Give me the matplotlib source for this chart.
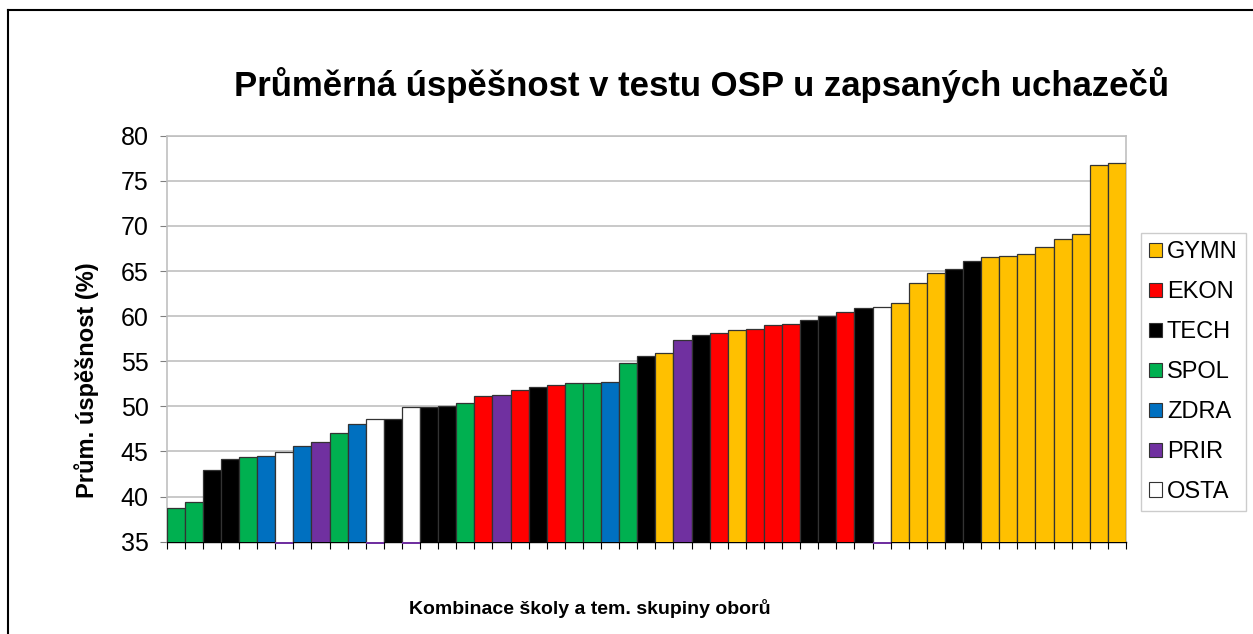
import matplotlib
matplotlib.use("Agg")
import matplotlib.pyplot as plt
import matplotlib.patches as mpatches
from matplotlib.lines import Line2D

plt.rcParams["font.family"] = ["Liberation Sans", "DejaVu Sans"]

# ── Data ──────────────────────────────────────────────────────────────────────
categories = ["GYMN", "EKON", "TECH", "SPOL", "ZDRA", "PRIR", "OSTA"]
cat_colors = ["#FFC000", "#FF0000", "#000000", "#00B050", "#0070C0", "#7030A0", "#FFFFFF"]

values = [38.7, 39.4, 43.0, 44.2, 44.4, 44.5, 44.9, 45.6, 46.1, 47.05,
          48.0, 48.6, 48.6, 49.9, 49.95, 50.05, 50.4, 51.1, 51.3, 51.8,
          52.2, 52.4, 52.55, 52.6, 52.7, 54.8, 55.6, 55.9, 57.4, 57.9,
          58.1, 58.5, 58.55, 59.05, 59.1, 59.6, 60.0, 60.5, 60.9, 61.0,
          61.5, 63.7, 64.8, 65.2, 66.1, 66.55, 66.7, 66.9, 67.7, 68.6,
          69.1, 76.7, 76.95]
groups = ["SPOL", "SPOL", "TECH", "TECH", "SPOL", "ZDRA", "OSTA", "ZDRA", "PRIR", "SPOL",
          "ZDRA", "OSTA", "TECH", "OSTA", "TECH", "TECH", "SPOL", "EKON", "PRIR", "EKON",
          "TECH", "EKON", "SPOL", "SPOL", "ZDRA", "SPOL", "TECH", "GYMN", "PRIR", "TECH",
          "EKON", "GYMN", "EKON", "EKON", "EKON", "TECH", "TECH", "EKON", "TECH", "OSTA",
          "GYMN", "GYMN", "GYMN", "TECH", "TECH", "GYMN", "GYMN", "GYMN", "GYMN", "GYMN",
          "GYMN", "GYMN", "GYMN"]
yticks = [35, 40, 45, 50, 55, 60, 65, 70, 75, 80]

color_map = dict(zip(categories, cat_colors))
GRID = "#C0C0C0"

fig = plt.figure(figsize=(12.53, 6.34), dpi=100, facecolor="white")
ax = fig.add_axes([0.1330, 0.1456, 0.7656, 0.6404])

x = list(range(len(values)))
ax.bar(x, values, width=1.0, color=[color_map[g] for g in groups],
       edgecolor="#333333", linewidth=0.9, zorder=3)

# thin purple strip under the OSTA bars, as in the original export
osta_x = [i for i, g in enumerate(groups) if g == "OSTA"]
ax.bar(osta_x, [-0.25] * len(osta_x), bottom=35, width=1.0, color="#7030A0",
       linewidth=0, clip_on=False, zorder=4)

ax.set_xlim(-0.5, len(values) - 0.5)
ax.set_ylim(35, 80)
ax.set_yticks(yticks)
ax.set_yticklabels([str(t) for t in yticks], fontsize=18)
ax.set_xticks([i - 0.5 for i in range(len(values) + 1)])
ax.set_xticklabels([])
ax.tick_params(axis="x", length=5, color="#000000", direction="out")
ax.tick_params(axis="y", length=5, color="#808080", pad=8)
ax.yaxis.grid(True, color=GRID, linewidth=1.2, zorder=0)
ax.set_axisbelow(True)
for side in ["left", "top", "right"]:
    ax.spines[side].set_color(GRID)
    ax.spines[side].set_linewidth(1.2)
ax.spines["bottom"].set_color("#000000")
ax.spines["bottom"].set_linewidth(1.0)

ax.set_ylabel("Prům. úspěšnost (%)", fontsize=17, fontweight="bold",
              va="center", ha="center")
ax.yaxis.set_label_coords(-0.083, 0.398)

fig.text(0.56, 0.866, "Průměrná úspěšnost v testu OSP u zapsaných uchazečů",
         fontsize=25, fontweight="bold", ha="center", va="center")
fig.text(0.471, 0.041, "Kombinace školy a tem. skupiny oborů",
         fontsize=14, fontweight="bold", ha="center", va="center")

# ── Legend ────────────────────────────────────────────────────────────────────
handles = [mpatches.Patch(facecolor=c, edgecolor="#333333", linewidth=0.8, label=l)
           for l, c in zip(categories, cat_colors)]
leg = fig.legend(handles=handles, loc="upper left", bbox_to_anchor=(0.9106, 0.6325),
                 fontsize=17, frameon=True, fancybox=False, edgecolor=GRID,
                 handlelength=0.55, handleheight=0.55, handletextpad=0.2,
                 labelspacing=0.76, borderpad=0.35, borderaxespad=0)
leg.get_frame().set_linewidth(1.0)

# ── Outer border (top and left edges visible) ────────────────────────────────
fig.add_artist(Line2D([0.0064, 1.0], [0.984, 0.984], color="black", linewidth=1.5,
                      transform=fig.transFigure))
fig.add_artist(Line2D([0.0064, 0.0064], [0.0, 0.984], color="black", linewidth=1.5,
                      transform=fig.transFigure))

fig.savefig("out.png", dpi=100, facecolor="white")
plt.close(fig)
